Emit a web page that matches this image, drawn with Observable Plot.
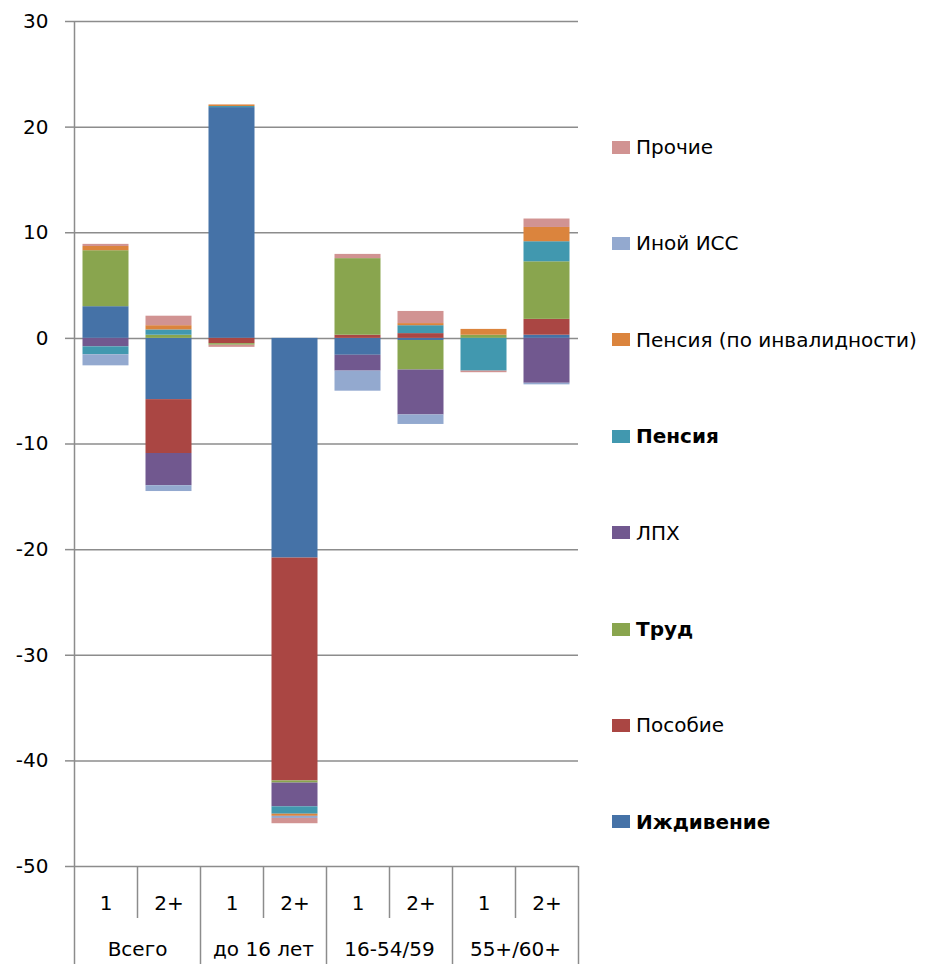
<!DOCTYPE html>
<html>
<head>
<meta charset="utf-8">
<script src="https://cdn.jsdelivr.net/npm/d3@7"></script>
<script src="https://cdn.jsdelivr.net/npm/@observablehq/plot@0.6"></script>
<style>
  html, body { margin: 0; padding: 0; background: #fff; }
  #wrap { position: relative; width: 930px; height: 964px; font-family: "DejaVu Sans", sans-serif; }
  #chart { position: absolute; left: 0; top: 0; }
  .leg { position: absolute; left: 612px; height: 24px; display: flex; align-items: center; font-size: 20px; color: #000; white-space: nowrap; }
  .leg .sw { width: 18px; height: 13px; margin-right: 6px; flex: none; }
</style>
</head>
<body>
<div id="wrap"><div id="chart"></div></div>
<script>
// ---- data ----
const groups = ["Всего", "до 16 лет", "16-54/59", "55+/60+"];
const subs = ["1", "2+"];
const seriesNames = ["Иждивение", "Пособие", "Труд", "ЛПХ", "Пенсия", "Пенсия (по инвалидности)", "Иной ИСС", "Прочие"];
const boldSeries = ["Иждивение", "Труд", "Пенсия"];
const seriesColors = ["#4572A7", "#AA4643", "#89A54E", "#71588F", "#4198AF", "#DB843D", "#93A9CF", "#D19392"];
// values per bar: Всего 1, Всего 2+, до16 1, до16 2+, 16-54/59 1, 16-54/59 2+, 55+/60+ 1, 55+/60+ 2+
const izhdivenie = [3.0, -5.8, 21.85, -20.8, -1.6, -0.2, 0, 0.3];
const posobie    = [0, -5.1, -0.5, -21.1, 0.3, 0.45, 0, 1.5];
const trud       = [5.3, 0.3, -0.15, -0.2, 7.25, -2.8, 0.3, 5.45];
const lph        = [-0.8, -3.05, 0, -2.25, -1.5, -4.25, 0, -4.25];
const pensiya    = [-0.75, 0.5, 0.1, -0.7, 0, 0.75, -3.1, 1.9];
const pensiyaInv = [0.4, 0.4, 0.15, -0.2, 0, 0.2, 0.55, 1.35];
const inoyIss    = [-1.05, -0.55, 0, -0.2, -1.9, -0.9, 0, -0.15];
const prochie    = [0.2, 0.9, -0.2, -0.5, 0.4, 1.15, -0.15, 0.8];
const yTicks = [-50, -40, -30, -20, -10, 0, 10, 20, 30];

// ---- build table ----
const seriesValues = [izhdivenie, posobie, trud, lph, pensiya, pensiyaInv, inoyIss, prochie];
const keys = groups.flatMap(g => subs.map(s => g + "|" + s));
const rows = [];
seriesValues.forEach((vals, si) => {
  vals.forEach((v, ki) => rows.push({key: keys[ki], series: seriesNames[si], value: v}));
});

// ---- layout ----
const W = 600, H = 964, mL = 74, mR = 22, mT = 21, mB = 98;
const step = (W - mL - mR) / keys.length;
const gridColor = "#8c8c8c";
const axisOpts = {stroke: gridColor, strokeWidth: 1.5, tickFormat: () => ""};

const chart = Plot.plot({
  width: W, height: H,
  marginLeft: mL, marginRight: mR, marginTop: mT, marginBottom: mB,
  style: {fontFamily: "DejaVu Sans, sans-serif", fontSize: "20px", color: "#000", background: "#fff", overflow: "visible"},
  x: {domain: keys, padding: 0, label: null, axis: null},
  y: {domain: [-50, 30], label: null, axis: null},
  color: {domain: seriesNames, range: seriesColors},
  marks: [
    Plot.ruleY(yTicks, {stroke: gridColor, strokeWidth: 1.5}),
    Plot.barY(rows, Plot.stackY({x: "key", y: "value", fill: "series", insetLeft: 8.5, insetRight: 8.5})),
    Plot.ruleX([keys[0]], {dx: -step / 2, stroke: gridColor, strokeWidth: 1.5}),
    Plot.axisY(yTicks, {tickSize: 9, tickPadding: 17, stroke: gridColor, strokeWidth: 1.5, tickFormat: d => String(d), fontSize: 20, label: null}),
    Plot.axisX(keys.filter(k => k.endsWith("|2+")), {...axisOpts, tickSize: 52, dx: -step / 2, label: null}),
    Plot.axisX(keys.filter(k => k.endsWith("|1")), {...axisOpts, tickSize: 98, dx: -step / 2, label: null}),
    Plot.axisX([keys[keys.length - 1]], {...axisOpts, tickSize: 98, dx: step / 2, label: null}),
    Plot.axisX(keys, {tickSize: 0, tickPadding: 29, tickFormat: k => k.split("|")[1], fontSize: 20, label: null}),
    Plot.axisX(keys.filter(k => k.endsWith("|1")), {tickSize: 0, tickPadding: 75, dx: step / 2, tickFormat: k => k.split("|")[0], fontSize: 20, label: null})
  ]
});
document.getElementById("chart").appendChild(chart);

// ---- legend ----
const wrap = document.getElementById("wrap");
const legOrder = seriesNames.map((n, i) => i).reverse();
legOrder.forEach((si, idx) => {
  const d = document.createElement("div");
  d.className = "leg";
  d.style.top = (147 + idx * 96.4 - 12) + "px";
  const sw = document.createElement("span");
  sw.className = "sw";
  sw.style.background = seriesColors[si];
  const t = document.createElement("span");
  t.textContent = seriesNames[si];
  if (boldSeries.includes(seriesNames[si])) t.style.fontWeight = "bold";
  d.appendChild(sw); d.appendChild(t);
  wrap.appendChild(d);
});
</script>
</body>
</html>
